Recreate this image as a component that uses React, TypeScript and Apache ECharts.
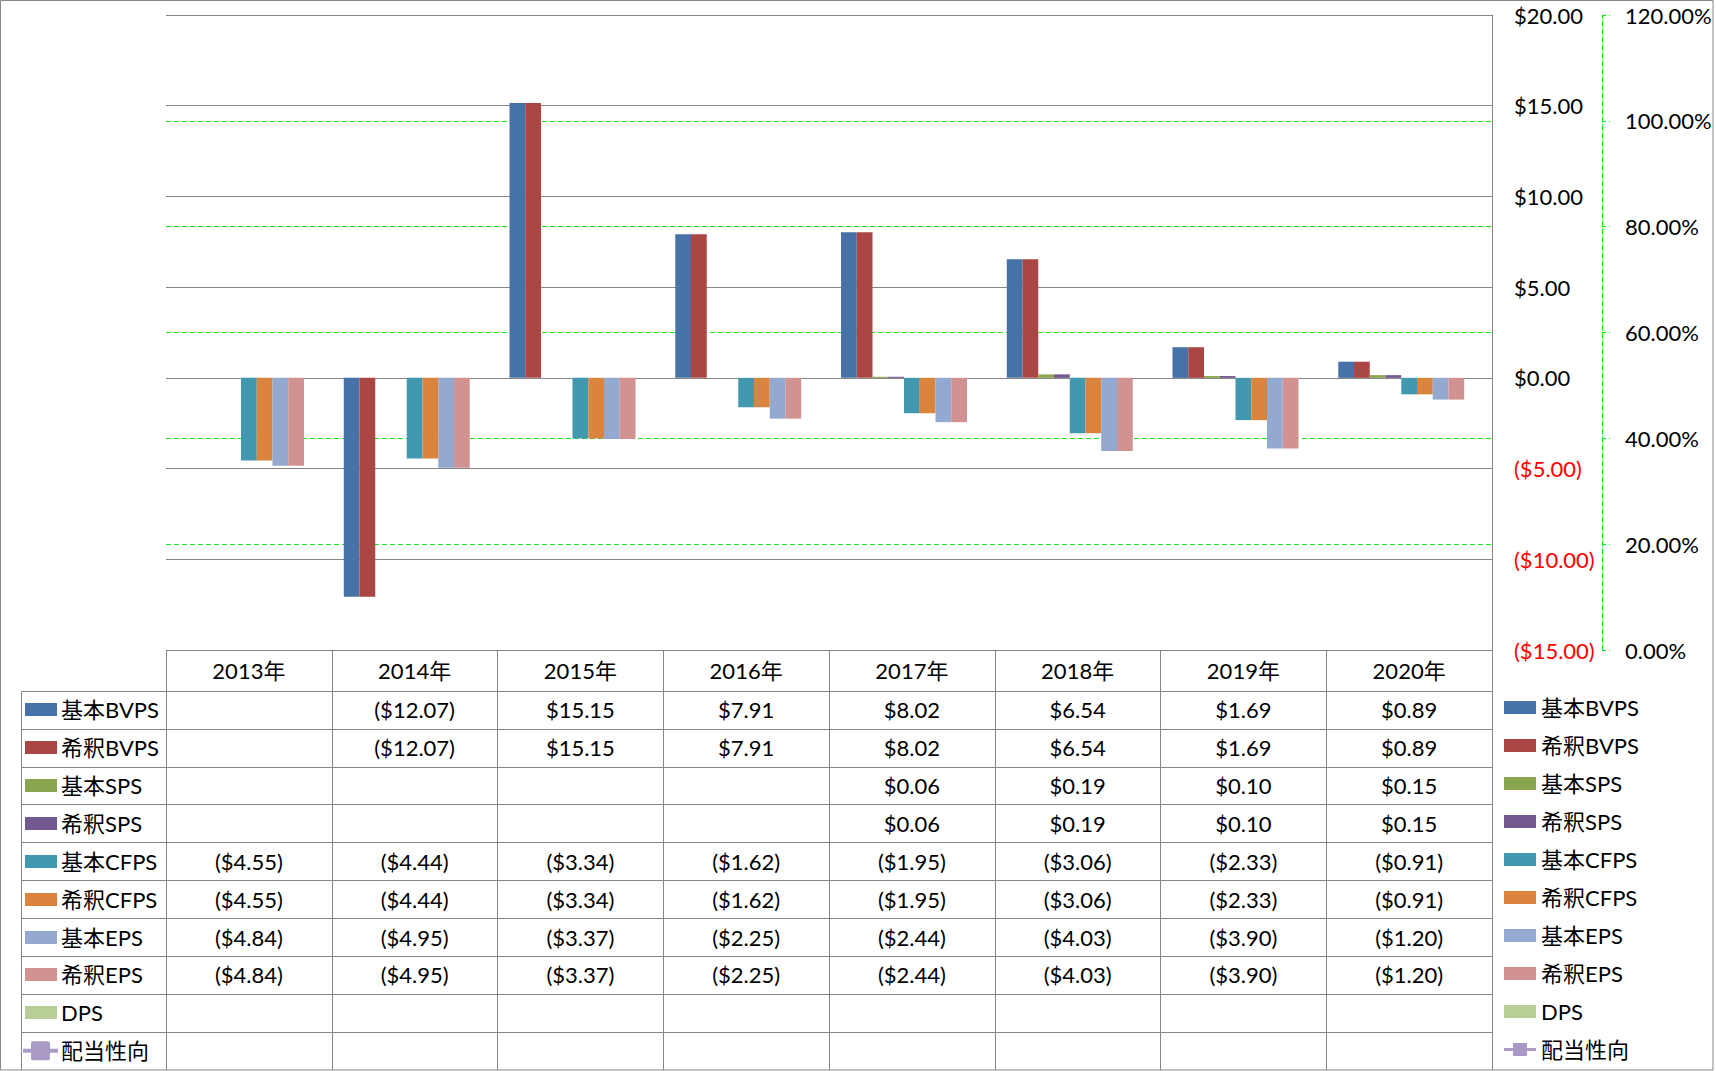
import React, { useEffect, useRef } from 'react';
import * as echarts from 'echarts';

const categories = ['2013年', '2014年', '2015年', '2016年', '2017年', '2018年', '2019年', '2020年'];
const basicBVPS = [null, -12.07, 15.15, 7.91, 8.02, 6.54, 1.69, 0.89];
const dilutedBVPS = [null, -12.07, 15.15, 7.91, 8.02, 6.54, 1.69, 0.89];
const basicSPS = [null, null, null, null, 0.06, 0.19, 0.1, 0.15];
const dilutedSPS = [null, null, null, null, 0.06, 0.19, 0.1, 0.15];
const basicCFPS = [-4.55, -4.44, -3.34, -1.62, -1.95, -3.06, -2.33, -0.91];
const dilutedCFPS = [-4.55, -4.44, -3.34, -1.62, -1.95, -3.06, -2.33, -0.91];
const basicEPS = [-4.84, -4.95, -3.37, -2.25, -2.44, -4.03, -3.9, -1.2];
const dilutedEPS = [-4.84, -4.95, -3.37, -2.25, -2.44, -4.03, -3.9, -1.2];
const dps = [null, null, null, null, null, null, null, null];
const payoutRatio = [null, null, null, null, null, null, null, null];

const seriesNames = ['基本BVPS', '希釈BVPS', '基本SPS', '希釈SPS', '基本CFPS', '希釈CFPS', '基本EPS', '希釈EPS', 'DPS', '配当性向'];
const seriesColors = ['#4672a8', '#aa4644', '#89a54e', '#71588f', '#4198af', '#db843d', '#93a9cf', '#d19392', '#b9cd96', '#a99bc6'];
const rows = [basicBVPS, dilutedBVPS, basicSPS, dilutedSPS, basicCFPS, dilutedCFPS, basicEPS, dilutedEPS, dps, payoutRatio];

const FONT = 'Lato, "Noto Sans CJK JP", sans-serif';
const FS = 22;
const GRAY = '#868686';
const GREEN = '#11ee11';

// layout
const GRID_LEFT = 166;
const GRID_TOP = 15;
const GRID_W = 1326;
const GRID_H = 635;
const TABLE_TOP = GRID_TOP + GRID_H;
const HEADER_H = 40.7;
const ROW_H = 37.9;
const LEG_LEFT = 20.7;
const BOTTOM = 1070;

function fmtMoney(v: number | null) {
  if (v == null) return '';
  const a = Math.abs(v).toFixed(2);
  return v < 0 ? `($${a})` : `$${a}`;
}
function fmtPct(v: number | null) {
  if (v == null) return '';
  return `${(v * 100).toFixed(2)}%`;
}

export default function App() {
  const ref = useRef<HTMLDivElement>(null);
  useEffect(() => {
    const chart = echarts.init(ref.current!, null, { renderer: 'svg' });

    const rowCenter = (i: number) => TABLE_TOP + HEADER_H + ROW_H * (i + 0.5);

    const xAxes: any[] = [
      {
        type: 'category',
        data: categories,
        gridIndex: 0,
        position: 'bottom',
        boundaryGap: true,
        axisLine: { show: false, onZero: false },
        axisTick: { show: true, interval: 0, length: BOTTOM - TABLE_TOP, inside: false, lineStyle: { color: GRAY, width: 1 } },
        axisLabel: { interval: 0, margin: 20, verticalAlign: 'middle', fontSize: FS, fontFamily: FONT, color: '#000' },
        splitLine: { show: false },
      },
    ];
    rows.forEach((row, ri) => {
      xAxes.push({
        type: 'category',
        data: categories,
        gridIndex: 0,
        position: 'bottom',
        offset: rowCenter(ri) - TABLE_TOP,
        axisLine: { show: false, onZero: false },
        axisTick: { show: false },
        splitLine: { show: false },
        axisPointer: { show: false },
        axisLabel: {
          interval: 0,
          margin: 0,
          verticalAlign: 'middle',
          fontSize: FS,
          fontFamily: FONT,
          color: '#000',
          formatter: (_v: string, idx: number) => (ri === 9 ? fmtPct(row[idx]) : fmtMoney(row[idx])),
        },
      });
    });

    const graphics: any[] = [];
    graphics.push({
      type: 'rect',
      shape: { x: 0.5, y: 0.5, width: 1712.5, height: BOTTOM - 0.5 },
      style: { fill: 'none', stroke: GRAY, lineWidth: 1 },
      silent: true,
      z: 100,
    });
    for (let k = 0; k <= 9; k++) {
      const y = Math.round(TABLE_TOP + HEADER_H + ROW_H * k) + 0.5;
      graphics.push({
        type: 'line',
        shape: { x1: Math.round(LEG_LEFT) + 0.5, y1: y, x2: GRID_LEFT + GRID_W, y2: y },
        style: { stroke: GRAY, lineWidth: 1 },
        silent: true,
      });
    }
    graphics.push({
      type: 'line',
      shape: { x1: Math.round(LEG_LEFT) + 0.5, y1: Math.round(TABLE_TOP + HEADER_H), x2: Math.round(LEG_LEFT) + 0.5, y2: BOTTOM },
      style: { stroke: GRAY, lineWidth: 1 },
      silent: true,
    });
    seriesNames.forEach((name, i) => {
      const cy = rowCenter(i);
      if (i === 9) {
        graphics.push({
          type: 'line',
          shape: { x1: 23, y1: cy, x2: 58, y2: cy },
          style: { stroke: seriesColors[i], lineWidth: 4 },
          silent: true,
        });
        graphics.push({
          type: 'rect',
          shape: { x: 31, y: cy - 9.5, width: 19, height: 19, r: 2 },
          style: { fill: seriesColors[i] },
          silent: true,
        });
      } else {
        graphics.push({
          type: 'rect',
          shape: { x: 25, y: Math.round(cy - 6.5), width: 32, height: 13 },
          style: { fill: seriesColors[i] },
          silent: true,
        });
      }
      graphics.push({
        type: 'text',
        x: 61,
        y: cy,
        style: { text: name, fontSize: FS, fontFamily: FONT, fill: '#000', verticalAlign: 'middle', align: 'left' },
        silent: true,
      });
    });

    const series: any[] = seriesNames.slice(0, 9).map((name, i) => ({
      type: 'bar',
      name,
      data: rows[i],
      xAxisIndex: 0,
      yAxisIndex: 0,
      barGap: '0%',
      barCategoryGap: '14.5%',
      itemStyle: { color: seriesColors[i] },
    }));
    series.push({
      type: 'line',
      name: '配当性向',
      data: payoutRatio,
      xAxisIndex: 0,
      yAxisIndex: 1,
      symbol: 'rect',
      symbolSize: 16,
      itemStyle: { color: seriesColors[9] },
      lineStyle: { color: seriesColors[9], width: 4 },
    });

    chart.setOption({
      animation: false,
      backgroundColor: '#fff',
      grid: { left: GRID_LEFT, top: GRID_TOP, width: GRID_W, height: GRID_H, containLabel: false },
      legend: {
        orient: 'vertical',
        left: 1504,
        top: 696.5,
        padding: 0,
        itemWidth: 32,
        itemHeight: 13,
        itemGap: 16,
        icon: 'rect',
        selectedMode: false,
        textStyle: { fontSize: FS, fontFamily: FONT, color: '#000', padding: [0, 0, 0, 0] },
        data: seriesNames.map((n, i) =>
          i === 9 ? { name: n, icon: 'path://M0,5H9V0H23V5H32V8H23V13H9V8H0Z', itemStyle: { color: seriesColors[9] } } : { name: n }
        ),
      },
      xAxis: xAxes,
      yAxis: [
        {
          type: 'value',
          position: 'right',
          min: -15,
          max: 20,
          interval: 5,
          axisLine: { show: true, lineStyle: { color: GRAY, width: 1 } },
          axisTick: { show: false },
          splitLine: { show: true, lineStyle: { color: GRAY, width: 1 } },
          axisLabel: {
            margin: 22,
            fontSize: FS,
            fontFamily: FONT,
            formatter: (v: number) => fmtMoney(v),
            color: (v: any) => (Number(v) < 0 ? '#ff0000' : '#000000'),
          },
        },
        {
          type: 'value',
          position: 'right',
          offset: 110,
          min: 0,
          max: 1.2,
          interval: 0.2,
          axisLine: { show: true, lineStyle: { color: GREEN, width: 1, type: [5, 3] } },
          axisTick: { show: true, inside: false, length: 8, lineStyle: { color: GREEN, width: 1, type: [4, 3] } },
          splitLine: { show: true, showMinLine: false, showMaxLine: false, lineStyle: { color: GREEN, width: 1, type: [5, 3] } },
          axisLabel: {
            margin: 23,
            fontSize: FS,
            fontFamily: FONT,
            color: '#000',
            formatter: (v: number) => fmtPct(v),
          },
        },
      ],
      graphic: graphics,
      series,
    });
    return () => chart.dispose();
  }, []);
  return <div ref={ref} style={{ position: 'fixed', left: 0, top: 0, width: 1716, height: 1071, background: '#fff' }} />;
}
